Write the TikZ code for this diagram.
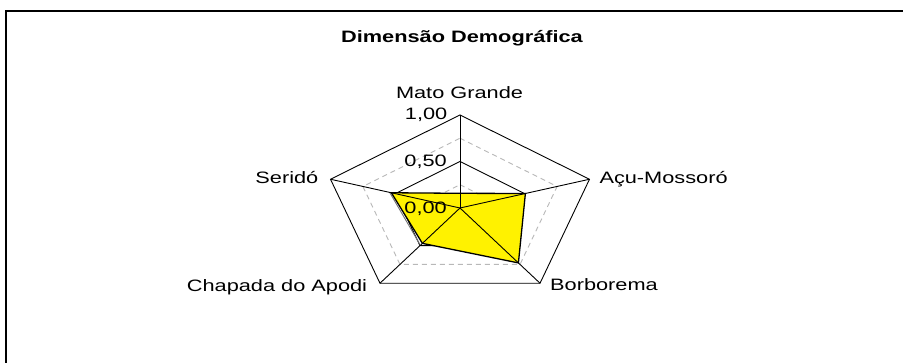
\documentclass[tikz,border=0pt]{standalone}
\usepackage{fontspec}
\setmainfont{Liberation Sans}
\newcommand{\sx}[1]{\scalebox{1.45}[1.1]{#1}}
\tikzset{
  ring/.style={draw=black, line width=0.9pt},
  dring/.style={draw=black!28, line width=0.9pt, dash pattern=on 5pt off 4pt},
  spoke/.style={draw=black, line width=0.9pt},
  series/.style={draw=black, line width=1.3pt, line join=miter},
  lbl/.style={inner sep=0pt, font=\fontsize{15}{18}\selectfont},
  ttl/.style={inner sep=0pt, font=\fontsize{15}{18}\selectfont\bfseries},
  frame/.style={draw=black, line width=2.5pt}
}
\begin{document}
\begin{tikzpicture}[x=1pt,y=-1pt]
\useasboundingbox (0,0) rectangle (903,363);
\fill[white] (0,0) rectangle (903,363);
\coordinate (f1) at (6,365);
\coordinate (f2) at (6,11);
\coordinate (f3) at (905,11);
\draw[frame, line join=miter] (f1) -- (f2) -- (f3);
\node[ttl, anchor=base] (title) at (462,43) {\sx{Dimensão Demográfica}};
\begin{scope}[shift={(460,208)}, x={(136.15pt,0pt)}, y={(0pt,93pt)}]
  \coordinate (o) at (0,0);
  \foreach \r in {0.25,0.75}
    \draw[dring] (90:\r) -- (18:\r) -- (-54:\r) -- (-126:\r) -- (162:\r) -- cycle;
  \foreach \r in {0.5,1}
    \draw[ring] (90:\r) -- (18:\r) -- (-54:\r) -- (-126:\r) -- (162:\r) -- cycle;
  \coordinate (vmg) at (90:1);
  \coordinate (vac) at (18:1);
  \coordinate (vbo) at (-54:1);
  \coordinate (vch) at (-126:1);
  \coordinate (vse) at (162:1);
  \coordinate (pmg) at (90:0.158);
  \coordinate (pac) at (18:0.505);
  \coordinate (pbo) at (-54:0.73);
  \coordinate (pch) at (-126:0.47);
  \coordinate (pse) at (162:0.53);
  \fill[yellow] (pmg) -- (pac) -- (pbo) -- (pch) -- (pse) -- cycle;
  \draw[draw=black!55, line width=0.9pt] ([xshift=-1.5pt]pse) -- ([xshift=-2.5pt,yshift=-1pt]pch);
  \draw[series] (pmg) -- (pac) -- (pbo) -- (pch) -- (pse) -- cycle;
  \draw[spoke] (o) -- (vmg);
  \draw[spoke] (o) -- (vac);
  \draw[spoke] (o) -- (vbo);
  \draw[spoke] (o) -- (vch);
  \draw[spoke] (o) -- (vse);
\end{scope}
\node[lbl, anchor=base] (lmg) at (459.5,98.3) {\sx{Mato Grande}};
\node[lbl, anchor=base east] (t100) at (447.5,120) {\sx{1,00}};
\node[lbl, anchor=base east] (t050) at (447,166.7) {\sx{0,50}};
\node[lbl, anchor=base east] (t000) at (447,213.3) {\sx{0,00}};
\node[lbl, anchor=base east] (lse) at (318.5,183.3) {\sx{Seridó}};
\node[lbl, anchor=base west] (lac) at (599.3,183.3) {\sx{Açu-Mossoró}};
\node[lbl, anchor=base west] (lch) at (186.7,291.7) {\sx{Chapada do Apodi}};
\node[lbl, anchor=base west] (lbo) at (550,291) {\sx{Borborema}};
\end{tikzpicture}
\end{document}
